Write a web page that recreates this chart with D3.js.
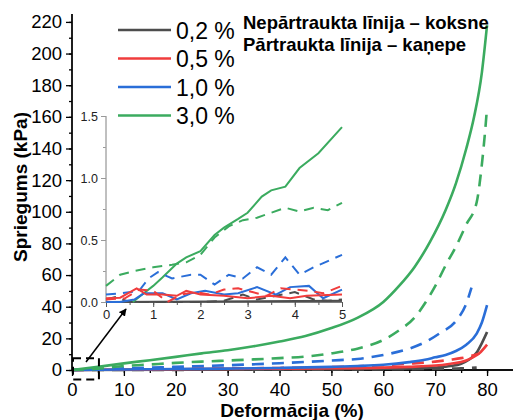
<!DOCTYPE html>
<html lang="lv">
<head>
<meta charset="UTF-8" />
<title>Spriegums / deformācija</title>
<script src="https://d3js.org/d3.v7.min.js"></script>
<style>
  body { margin: 0; background: #fff; }
  text { font-family: "Liberation Sans", Arial, sans-serif; }
</style>
</head>
<body>
<script>
// legend labels and colours
var labels = ["0,2 %", "0,5 %", "1,0 %", "3,0 %"];
var colors = ["#4d4d4d", "#f03c3c", "#2a6ed8", "#3bab5f"];

// main chart: [deformation %, stress kPa]  (solid = koksne, dashed = kaņepe)
var wood02 = [[0,0],[20,0.2],[40,0.4],[60,0.8],[65,1],[70,1.6],[73,2.5],[75,4],[76.5,6.5],[78,11],[79,17],[80,24]];
var hemp02 = [[0,0],[20,0.1],[40,0.2],[60,0.4],[70,0.7],[75,1],[78,1.5]];
var wood05 = [[0,0],[10,0.3],[20,0.5],[30,0.7],[40,0.9],[50,1.1],[60,1.5],[65,2],[70,2.8],[73,4],[75,5],[77,7.5],[78.5,10.5],[80,16]];
var hemp05 = [[0,0],[10,0.5],[20,0.8],[30,1],[40,1.3],[50,1.8],[55,2.3],[60,3],[65,4],[70,5.3],[73,6.5],[75,7.5],[77,9],[78.5,10.5]];
var wood10 = [[0,0],[10,0.3],[20,0.6],[30,0.9],[40,1.3],[50,2],[55,2.5],[60,3.3],[65,5],[68,6.5],[70,8],[72,9.5],[74,12],[76,16],[78,23],[79,30],[80,41]];
var hemp10 = [[0,0],[5,0.4],[10,1],[20,2],[30,3],[40,4.3],[50,6],[55,7],[60,9.5],[65,13.5],[68,17.5],[71,23.5],[74,31],[76,42],[77,52]];
var wood30 = [[0,0],[5,2],[10,4.2],[15,6.2],[20,8.3],[25,10.5],[30,12.5],[35,15],[40,18],[45,21.5],[50,26.5],[55,33],[60,43],[63,53],[66,65],[69,81],[72,101],[74,118],[76,140],[77.5,160],[79,188],[80,218]];
var hemp30 = [[0,0],[5,0.8],[10,2.5],[15,3.5],[20,4.5],[25,5.3],[30,6],[35,6.7],[40,7.5],[45,8.5],[50,10.5],[55,13.5],[60,19],[63,25],[66,33],[68,42],[70,53],[72,66],[74,78],[76,92],[78,106],[79,130],[79.6,150],[80,166]];

// inset: first 5 % of deformation
var inWood02 = [[0,0],[5,0.01]];
var inHemp02 = [[0,0.02],[0.2,0.04],[0.5,0],[1,0],[1.5,0],[2,0],[2.5,0.01],[2.9,0.06],[3.2,0.02],[3.6,0.05],[4,0.08],[4.4,0.02],[4.7,0.01],[5,0.02]];
var inWood05 = [[0,0.03],[0.3,0.035],[0.65,0.11],[0.86,0.06],[1.2,0.06],[1.5,0.05],[1.7,0.09],[2,0.06],[2.5,0.05],[3,0.03],[3.5,0.05],[3.9,0.03],[4.25,0.05],[5,0.06]];
var inHemp05 = [[0,0.02],[0.4,0.03],[0.7,0.1],[1,0.09],[1.3,0],[1.6,0.06],[1.9,0.08],[2.2,0.06],[2.5,0.1],[2.8,0.11],[3.1,0.08],[3.4,0.05],[3.7,0.11],[4,0.1],[4.3,0.09],[4.6,0.07],[5,0.13]];
var inWood10 = [[0,0],[0.3,0],[0.6,0.02],[0.8,0.07],[1.2,0.07],[1.5,0.02],[1.8,0.07],[2.1,0.09],[2.5,0.06],[2.8,0.07],[3.2,0.12],[3.6,0.06],[3.9,0.12],[4.3,0.13],[4.6,0.03],[5,0.1]];
var inHemp10 = [[0,0.06],[0.3,0.07],[0.7,0.09],[0.9,0.19],[1.1,0.24],[1.4,0.19],[1.8,0.22],[2,0.22],[2.3,0.14],[2.6,0.22],[2.9,0.19],[3.2,0.28],[3.5,0.22],[3.8,0.36],[4.1,0.22],[4.4,0.28],[4.7,0.33],[5,0.38]];
var inWood30 = [[0.57,0],[0.8,0.07],[1,0.13],[1.2,0.2],[1.5,0.31],[1.7,0.36],[2,0.41],[2.3,0.54],[2.5,0.6],[2.8,0.67],[3,0.72],[3.3,0.85],[3.5,0.9],[3.8,0.93],[4.1,1.08],[4.5,1.2],[5,1.41]];
var inHemp30 = [[0,0.13],[0.3,0.22],[0.6,0.25],[1,0.28],[1.4,0.3],[1.7,0.32],[2,0.38],[2.3,0.52],[2.6,0.61],[2.9,0.66],[3.2,0.68],[3.5,0.72],[3.8,0.76],[4.1,0.73],[4.4,0.76],[4.7,0.74],[5,0.8]];

var mainTicksX = [0,10,20,30,40,50,60,70,80];
var mainTicksY = [0,20,40,60,80,100,120,140,160,180,200,220];
var insetTicksX = [0,1,2,3,4,5];
var insetTicksY = [0,0.5,1.0,1.5];

var W = 513, H = 420;
var svg = d3.select("body").append("svg").attr("width", W).attr("height", H);

// main scales
var x = d3.scaleLinear().domain([0, 85]).range([72, 513]);
var y = d3.scaleLinear().domain([0, 225]).range([370, 14]);

// main axes
var gx = svg.append("g").attr("transform", "translate(0,370)");
gx.call(d3.axisBottom(x).tickValues(d3.range(0, 81, 5)).tickSize(3).tickFormat(""));
gx.call(g => g.append("g").call(d3.axisBottom(x).tickValues(mainTicksX).tickSize(6).tickFormat(d3.format("d"))));
gx.selectAll("text").attr("font-size", 18.5).attr("fill", "#000").attr("dy", "0.9em");
gx.selectAll("path.domain").attr("d", "M72,0H513").attr("stroke-width", 1.3);
gx.selectAll("line").attr("stroke-width", 1.3);

var gy = svg.append("g").attr("transform", "translate(72,0)");
gy.call(d3.axisLeft(y).tickValues(d3.range(0, 221, 10)).tickSize(3).tickFormat(""));
gy.call(g => g.append("g").call(d3.axisLeft(y).tickValues(mainTicksY).tickSize(6).tickFormat(d3.format("d"))));
gy.selectAll("text").attr("font-size", 18.5).attr("fill", "#000").attr("dx", "-0.05em");
gy.selectAll("path.domain").attr("d", "M0,370V14").attr("stroke-width", 1.3);
gy.selectAll("line").attr("stroke-width", 1.3);

svg.selectAll(".domain").attr("stroke", "#000");

// axis titles
svg.append("text").attr("x", 292).attr("y", 417).attr("text-anchor", "middle")
  .attr("font-size", 19).attr("font-weight", "bold").text("Deformācija (%)");
svg.append("text").attr("transform", "translate(27,187) rotate(-90)").attr("text-anchor", "middle")
  .attr("font-size", 19).attr("font-weight", "bold").text("Spriegums (kPa)");

// main curves
var mainLine = d3.line().x(d => x(d[0])).y(d => y(d[1])).curve(d3.curveMonotoneX);
var mainSeries = [
  {d: hemp02, c: 0, dash: true}, {d: wood02, c: 0, dash: false},
  {d: hemp05, c: 1, dash: true}, {d: wood05, c: 1, dash: false},
  {d: hemp10, c: 2, dash: true}, {d: wood10, c: 2, dash: false},
  {d: hemp30, c: 3, dash: true}, {d: wood30, c: 3, dash: false}
];
svg.append("g").selectAll("path").data(mainSeries).enter().append("path")
  .attr("d", s => mainLine(s.d))
  .attr("fill", "none")
  .attr("stroke", s => colors[s.c])
  .attr("stroke-width", 2.6)
  .attr("stroke-dasharray", s => s.dash ? "12,8" : null);

// inset
var xi = d3.scaleLinear().domain([0, 5]).range([106, 342]);
var yi = d3.scaleLinear().domain([0, 1.5]).range([302, 116]);

var gxi = svg.append("g").attr("transform", "translate(0,302)");
gxi.call(d3.axisBottom(xi).tickValues(d3.range(0, 5.01, 0.5)).tickSize(3).tickFormat(""));
gxi.call(g => g.append("g").call(d3.axisBottom(xi).tickValues(insetTicksX).tickSize(5).tickFormat(d3.format("d"))));
gxi.selectAll("line").attr("stroke", "#555");
gxi.selectAll("path.domain").attr("stroke", "#555").attr("d", "M106,0H342");
gxi.selectAll("text").attr("font-size", 13).attr("fill", "#222");

var gyi = svg.append("g").attr("transform", "translate(106,0)");
gyi.call(d3.axisLeft(yi).tickValues(d3.range(0, 1.51, 0.25)).tickSize(3).tickFormat(""));
gyi.call(g => g.append("g").call(d3.axisLeft(yi).tickValues(insetTicksY).tickSize(5).tickFormat(d3.format(".1f"))));
gyi.selectAll("line").attr("stroke", "#999");
gyi.selectAll("path.domain").attr("stroke", "#aaa").attr("d", "M0,302V116");
gyi.selectAll("text").attr("font-size", 12.5).attr("fill", "#222");

var insetLine = d3.line().x(d => xi(d[0])).y(d => yi(d[1]));
var insetSeries = [
  {d: inWood02, c: 0, dash: false}, {d: inHemp02, c: 0, dash: true},
  {d: inHemp30, c: 3, dash: true}, {d: inWood30, c: 3, dash: false},
  {d: inHemp10, c: 2, dash: true}, {d: inWood10, c: 2, dash: false},
  {d: inHemp05, c: 1, dash: true}, {d: inWood05, c: 1, dash: false}
];
svg.append("g").selectAll("path").data(insetSeries).enter().append("path")
  .attr("d", s => insetLine(s.d))
  .attr("fill", "none")
  .attr("stroke", s => colors[s.c])
  .attr("stroke-width", 2)
  .attr("stroke-dasharray", s => s.dash ? "10,7" : null);

// zoom box and arrow
svg.append("rect").attr("x", x(0) + 1).attr("y", y(7.5)).attr("width", x(5) - x(0)).attr("height", y(-6) - y(7.5))
  .attr("fill", "none").attr("stroke", "#000").attr("stroke-width", 2).attr("stroke-dasharray", "8,5");
svg.append("defs").append("marker").attr("id", "ah").attr("viewBox", "0 0 10 10")
  .attr("refX", 9).attr("refY", 5).attr("markerWidth", 5).attr("markerHeight", 5).attr("orient", "auto")
  .append("path").attr("d", "M0,0L10,5L0,10z").attr("fill", "#000");
svg.append("line").attr("x1", 86).attr("y1", 362).attr("x2", 126).attr("y2", 309)
  .attr("stroke", "#000").attr("stroke-width", 1.5).attr("marker-end", "url(#ah)");

// legend
var leg = svg.append("g").selectAll("g").data(labels).enter().append("g")
  .attr("transform", (d, i) => "translate(118," + (30 + i * 28.5) + ")");
leg.append("line").attr("x1", 0).attr("x2", 53).attr("stroke", (d, i) => colors[i]).attr("stroke-width", 2.6);
leg.append("text").attr("x", 58).attr("y", 8.5).attr("font-size", 23).text(d => d);

// note
svg.append("text").attr("x", 243).attr("y", 29).attr("font-size", 18.5).attr("font-weight", "bold").text("Nepārtraukta līnija – koksne");
svg.append("text").attr("x", 243).attr("y", 51).attr("font-size", 18.5).attr("font-weight", "bold").text("Pārtraukta līnija – kaņepe");
</script>
</body>
</html>
